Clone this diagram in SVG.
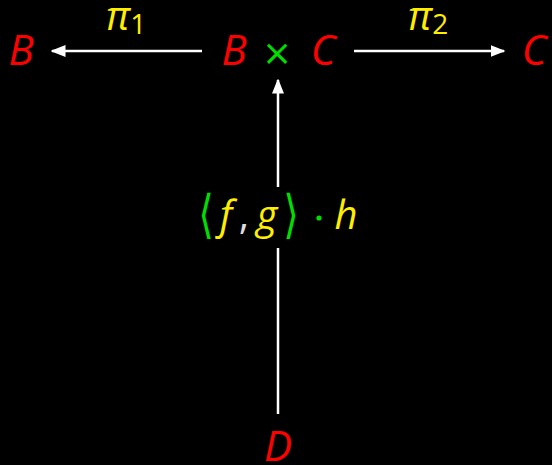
<svg xmlns="http://www.w3.org/2000/svg" width="552" height="465" viewBox="0 0 552 465">
<defs>
<style>
.obj{fill:#ff0000;font-family:"Open Sans","Liberation Sans",sans-serif;font-style:italic;font-size:42px}
.lbl{fill:#ffee00;font-family:"Open Sans","Liberation Sans",sans-serif;font-style:italic;font-size:40px}
.sub{font-style:normal;font-size:28px}
.grn{fill:#00dd00;font-style:normal}
.ln{stroke:#ffffff;stroke-width:2.5;fill:none}
</style>
<marker id="ah" viewBox="0 0 10 10" refX="9" refY="5" markerWidth="6" markerHeight="6" markerUnits="strokeWidth" orient="auto"><path d="M0,1 L10,5 L0,9 Z" fill="#ffffff"/></marker>
</defs>
<rect width="552" height="465" fill="#000"/>
<g id="connectors">
<line class="ln" x1="202" y1="51" x2="52" y2="51" marker-end="url(#ah)"/>
<line class="ln" x1="354" y1="51" x2="504" y2="51" marker-end="url(#ah)"/>
<line class="ln" x1="278" y1="187" x2="278" y2="80" marker-end="url(#ah)"/>
<line class="ln" x1="278" y1="414" x2="278" y2="248"/>
<text class="lbl" x="106" y="30">π<tspan class="sub" dy="4">1</tspan></text>
<text class="lbl" x="408" y="30">π<tspan class="sub" dy="4">2</tspan></text>
<g id="label">
<text class="grn" x="206" y="232" text-anchor="middle" font-family="DejaVu Sans, sans-serif" font-size="40" transform="translate(206,232) scale(1,1.3) translate(-206,-232)">⟨</text>
<text class="lbl" x="226" y="229" text-anchor="middle">f</text>
<text x="244" y="229" text-anchor="middle" fill="#dddddd" font-family="Open Sans, sans-serif" font-size="40">,</text>
<text class="lbl" x="267" y="229" text-anchor="middle">g</text>
<text class="grn" x="291" y="232" text-anchor="middle" font-family="DejaVu Sans, sans-serif" font-size="40" transform="translate(291,232) scale(1,1.3) translate(-291,-232)">⟩</text>
<circle cx="319" cy="218" r="2.6" fill="#00dd00"/>
<text class="lbl" x="346" y="229" text-anchor="middle">h</text>
</g>
</g>
<g id="B1"><text class="obj" x="21" y="65" text-anchor="middle">B</text></g>
<g id="BxC">
<text class="obj" x="234" y="65" text-anchor="middle">B</text>
<text x="277" y="65" text-anchor="middle" class="grn" font-family="DejaVu Sans, sans-serif" font-size="36">×</text>
<text class="obj" x="323" y="65" text-anchor="middle">C</text>
</g>
<g id="C2"><text class="obj" x="534" y="65" text-anchor="middle">C</text></g>
<g id="D"><text class="obj" x="278" y="461" text-anchor="middle">D</text></g>
</svg>
